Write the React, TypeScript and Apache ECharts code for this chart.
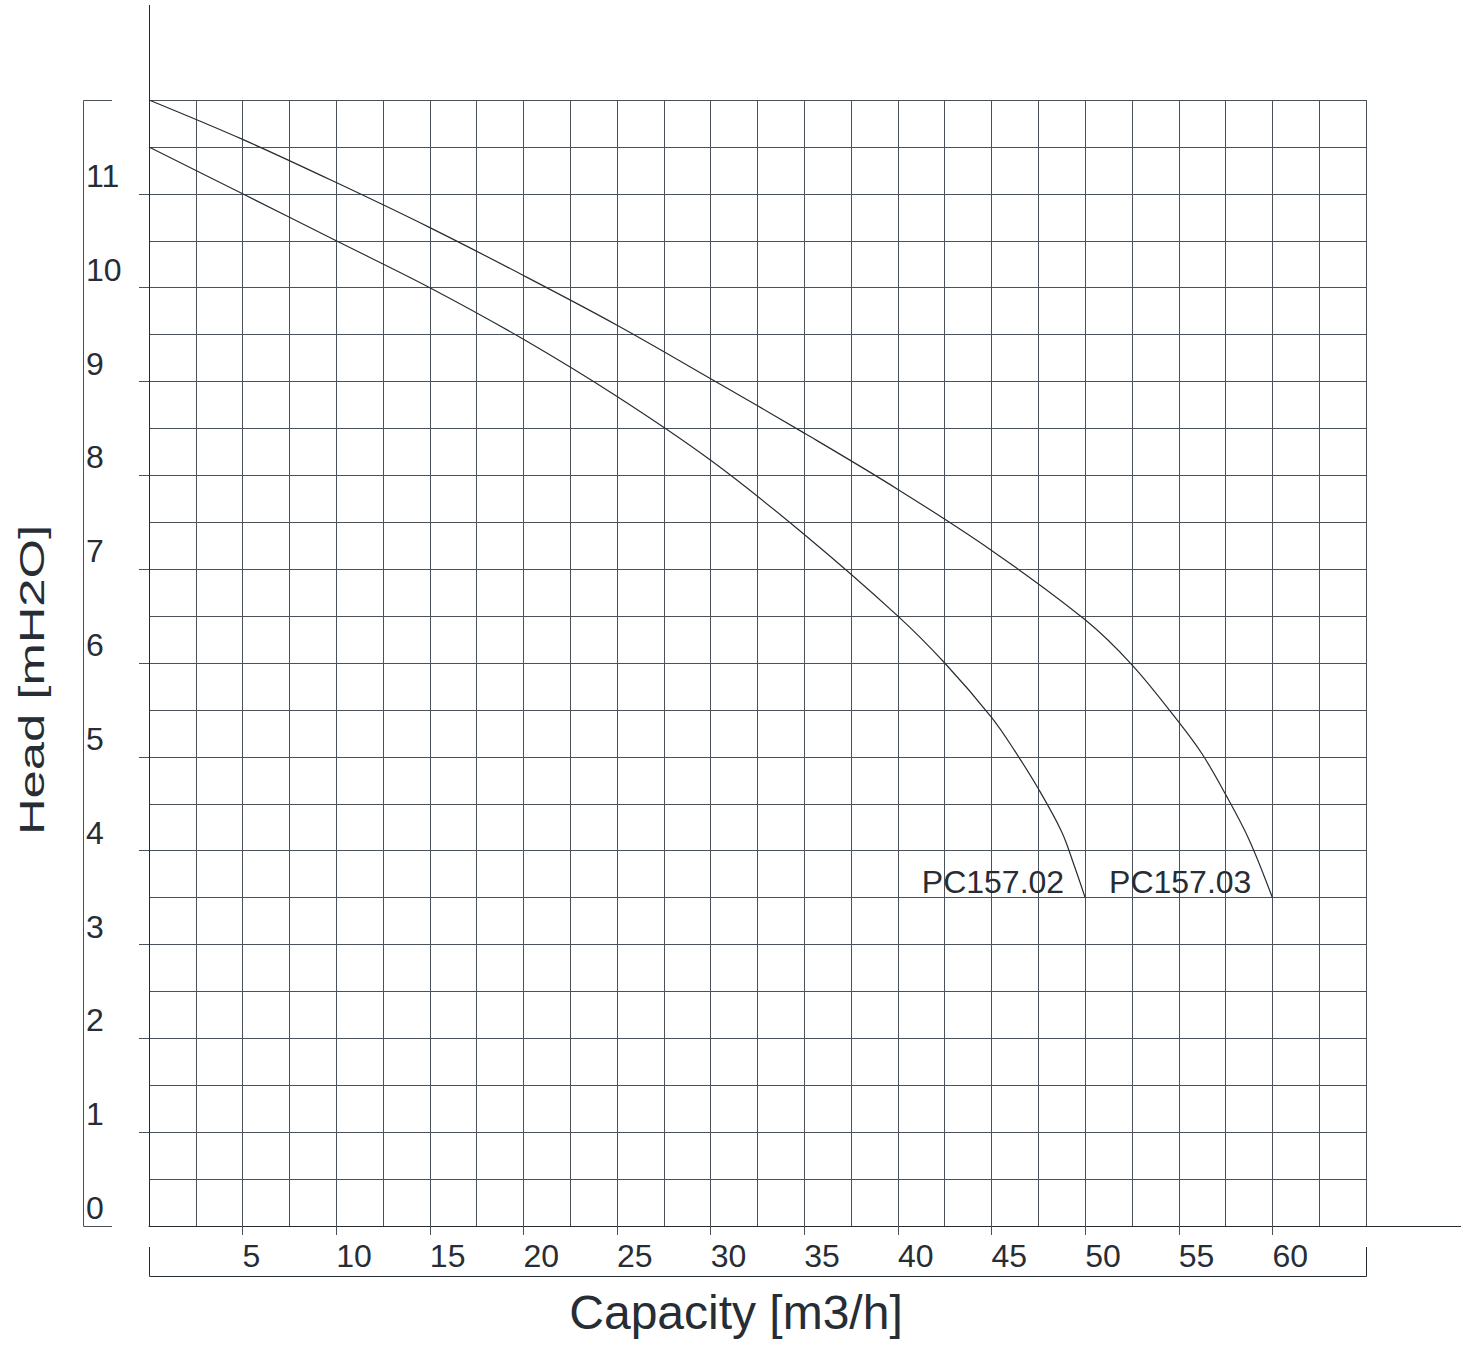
import React, { useEffect, useRef } from "react";
import * as echarts from "echarts";

// Pump curve data
const capacity02 = [0, 5, 10, 15, 20, 25, 30, 35, 40, 42.5, 45, 46.25, 47.5, 48.75, 49.4, 50];
const head02 = [11.5, 11.0, 10.5, 10.0, 9.45, 8.84, 8.16, 7.37, 6.5, 6.0, 5.42, 5.06, 4.66, 4.2, 3.85, 3.5];

const capacity03 = [0, 5, 10, 15, 20, 25, 30, 35, 40, 45, 50, 52.5, 55, 56.25, 57.5, 58.75, 60];
const head03 = [12, 11.58, 11.12, 10.64, 10.13, 9.6, 9.03, 8.45, 7.85, 7.2, 6.46, 5.98, 5.37, 5.03, 4.6, 4.12, 3.5];

const seriesNames = ["PC157.02", "PC157.03"];

const xLabelValues = [5, 10, 15, 20, 25, 30, 35, 40, 45, 50, 55, 60];
const yLabelValues = [0, 1, 2, 3, 4, 5, 6, 7, 8, 9, 10, 11];
const yTickValues = [1, 2, 3, 4, 5, 6, 7, 8, 9, 10, 11];

const xTitle = "Capacity [m3/h]";
const yTitle = "Head [mH2O]";

const FONT = '"Liberation Sans", Arial, sans-serif';
const AXIS = "#262c34";
const GRID = "#4b5159";
const TEXT = "#272d35";

function buildData(xs: number[], ys: number[]) {
  return xs.map((x, i) => {
    if (i === xs.length - 1) {
      return {
        value: [x, ys[i]],
        label: {
          show: true,
          position: "left",
          distance: 21,
          offset: [0, -16],
          formatter: "{a}",
          fontSize: 32,
          fontFamily: FONT,
          color: TEXT,
        },
      };
    }
    return { value: [x, ys[i]] };
  });
}

export default function App() {
  const ref = useRef<HTMLDivElement>(null);

  useEffect(() => {
    if (!ref.current) return;
    const chart = echarts.init(ref.current, undefined, { renderer: "svg" });
    const lineSeries = (name: string, xs: number[], ys: number[]) => ({
      name,
      type: "line",
      xAxisIndex: 0,
      yAxisIndex: 0,
      data: buildData(xs, ys),
      smooth: 0.35,
      showSymbol: true,
      symbol: "circle",
      symbolSize: 0,
      itemStyle: { color: AXIS },
      lineStyle: { color: AXIS, width: 1.2 },
      emphasis: { disabled: true },
      silent: true,
    });

    const labelStyle = { fontSize: 32, fontFamily: FONT, color: TEXT };

    chart.setOption({
      animation: false,
      backgroundColor: "#ffffff",
      grid: {
        left: 149,
        top: 100,
        width: 1217,
        height: 1126,
        containLabel: false,
        outerBoundsMode: "none",
      },
      xAxis: [
        {
          type: "value",
          position: "bottom",
          min: 0,
          max: 65,
          interval: 2.5,
          axisLine: { show: true, lineStyle: { color: AXIS, width: 1 } },
          axisTick: { show: false },
          axisLabel: { show: false },
          splitLine: { show: true, lineStyle: { color: GRID, width: 1 } },
          name: xTitle,
          nameLocation: "middle",
          nameGap: 86,
          nameTextStyle: {
            fontSize: 48,
            fontFamily: FONT,
            color: TEXT,
            verticalAlign: "middle",
            padding: [0, 43, 0, 0],
          },
        },
        {
          type: "value",
          position: "bottom",
          offset: 0,
          min: 0,
          max: 65,
          interval: 5,
          axisLine: { show: false },
          axisTick: {
            show: true,
            customValues: xLabelValues,
            length: 9,
            lineStyle: { color: GRID, width: 1 },
          },
          axisLabel: {
            customValues: xLabelValues,
            align: "left",
            verticalAlign: "middle",
            margin: 30,
            ...labelStyle,
          },
          splitLine: { show: false },
        },
      ],
      yAxis: [
        {
          type: "value",
          position: "left",
          min: 0,
          max: 12,
          interval: 0.5,
          axisLine: { show: true, lineStyle: { color: AXIS, width: 1 } },
          axisTick: { show: false },
          axisLabel: { show: false },
          splitLine: { show: true, lineStyle: { color: GRID, width: 1 } },
        },
        {
          type: "value",
          position: "left",
          offset: 0,
          min: 0,
          max: 12,
          interval: 1,
          axisLine: { show: false },
          axisTick: {
            show: true,
            customValues: yTickValues,
            length: 10,
            lineStyle: { color: GRID, width: 1 },
          },
          axisLabel: {
            customValues: yLabelValues,
            align: "left",
            verticalAlign: "bottom",
            lineHeight: 36,
            margin: 63,
            ...labelStyle,
          },
          splitLine: { show: false },
        },
      ],
      graphic: [
        {
          type: "line",
          silent: true,
          shape: { x1: 149.5, y1: 5, x2: 149.5, y2: 100 },
          style: { stroke: AXIS, lineWidth: 1 },
        },
        {
          type: "line",
          silent: true,
          shape: { x1: 1366, y1: 1226.5, x2: 1461, y2: 1226.5 },
          style: { stroke: AXIS, lineWidth: 1 },
        },
        {
          type: "polyline",
          silent: true,
          shape: { points: [[112, 100.5], [83.5, 100.5], [83.5, 1226.5], [112, 1226.5]] },
          style: { stroke: GRID, fill: null, lineWidth: 1 },
        },
        {
          type: "polyline",
          silent: true,
          shape: { points: [[149.5, 1247], [149.5, 1276.5], [1366.5, 1276.5], [1366.5, 1247]] },
          style: { stroke: AXIS, fill: null, lineWidth: 1 },
        },
        {
          type: "text",
          silent: true,
          x: 32,
          y: 680,
          rotation: Math.PI / 2,
          scaleX: 1.45,
          style: {
            text: yTitle,
            x: 0,
            y: 0,
            align: "center",
            verticalAlign: "middle",
            fontSize: 35,
            fontFamily: FONT,
            fill: TEXT,
          },
        },
      ],
      series: [
        lineSeries(seriesNames[0], capacity02, head02),
        lineSeries(seriesNames[1], capacity03, head03),
      ],
    });

    return () => {
      chart.dispose();
    };
  }, []);

  return (
    <div
      ref={ref}
      style={{ position: "fixed", left: 0, top: 0, width: 1469, height: 1345, background: "#fff" }}
    />
  );
}
